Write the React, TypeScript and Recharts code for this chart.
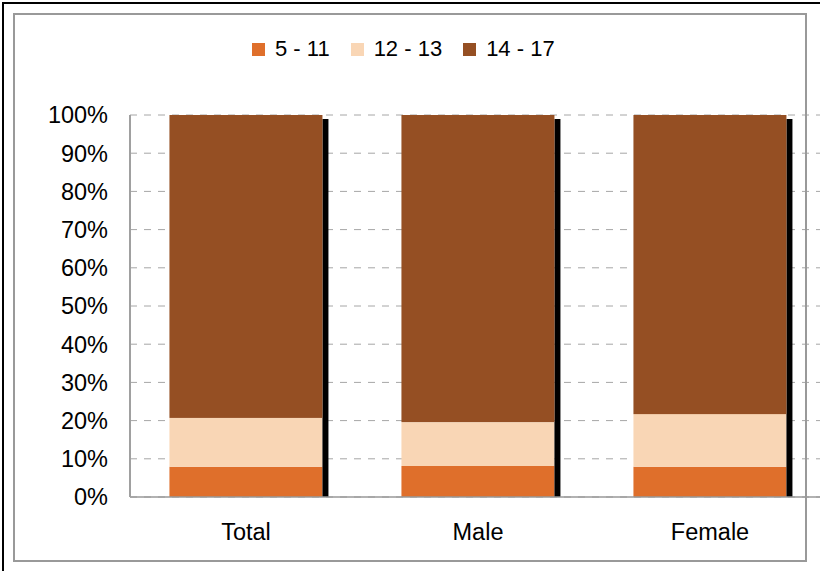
import { BarChart, Bar, XAxis, YAxis, CartesianGrid } from 'recharts';

const categories = ['Total', 'Male', 'Female'];
const age5to11 = [7.9, 8.1, 7.9];
const age12to13 = [12.8, 11.5, 13.8];
const age14to17 = [79.3, 80.4, 78.3];
const yTicks = [0, 10, 20, 30, 40, 50, 60, 70, 80, 90, 100];

const series = [
  { key: 'a', name: '5 - 11', color: '#DF6F2B' },
  { key: 'b', name: '12 - 13', color: '#F9D6B5' },
  { key: 'c', name: '14 - 17', color: '#954F23' },
];

const data = categories.map((name, i) => ({
  name,
  a: age5to11[i],
  b: age12to13[i],
  c: age14to17[i],
}));

const FONT = 'Arial, "Liberation Sans", sans-serif';

// top segment also draws the black drop shadow of the whole stack
const ShadowTop = (props: any) => {
  const { x, y, width, height, fill, payload } = props;
  const total = payload.a + payload.b + payload.c;
  const full = (height * total) / payload.c;
  return (
    <g>
      <rect x={x + width} y={y + 4} width={6} height={full - 4} fill="#000" />
      <rect x={x} y={y} width={width} height={height} fill={fill} />
    </g>
  );
};

const ChartLegend = () => (
  <div
    style={{
      position: 'absolute',
      left: 252,
      top: 36,
      display: 'flex',
      fontFamily: FONT,
      fontSize: 22,
      lineHeight: '26px',
      color: '#000',
    }}
  >
    {series.map((s) => (
      <div key={s.key} style={{ display: 'flex', alignItems: 'center', marginRight: 21 }}>
        <span style={{ width: 13, height: 13, background: s.color, marginRight: 10, display: 'inline-block' }} />
        <span>{s.name}</span>
      </div>
    ))}
  </div>
);

export default function App() {
  return (
    <div style={{ position: 'absolute', left: 0, top: 0, width: 820, height: 571, overflow: 'hidden', background: '#fff' }}>
      <div style={{ position: 'absolute', left: 2, top: 2, width: 830, height: 600, borderLeft: '2px solid #000', borderTop: '2px solid #000' }} />
      <BarChart
        width={830}
        height={571}
        data={data}
        margin={{ top: 115, right: 4, left: 0, bottom: 0 }}
        barCategoryGap="17%"
        style={{ position: 'absolute', left: 0, top: 0 }}
      >
        <CartesianGrid vertical={false} stroke="#a6a6a6" strokeDasharray="7 7" />
        <XAxis
          dataKey="name"
          height={74}
          axisLine={{ stroke: '#999', strokeWidth: 1.5 }}
          tickLine={false}
          tickSize={0}
          tickMargin={26}
          tick={{ fill: '#000', fontSize: 23.5, fontFamily: FONT }}
        />
        <YAxis
          domain={[0, 100]}
          ticks={yTicks}
          interval={0}
          tickFormatter={(v: number) => `${v}%`}
          axisLine={{ stroke: '#999', strokeWidth: 1.5 }}
          tickLine={false}
          tickSize={0}
          tickMargin={22}
          width={130}
          tick={{ fill: '#000', fontSize: 23.5, fontFamily: FONT }}
        />
        <Bar dataKey="a" name="5 - 11" stackId="s" fill={series[0].color} isAnimationActive={false} />
        <Bar dataKey="b" name="12 - 13" stackId="s" fill={series[1].color} isAnimationActive={false} />
        <Bar dataKey="c" name="14 - 17" stackId="s" fill={series[2].color} shape={<ShadowTop />} isAnimationActive={false} />
      </BarChart>
      {/* value axis rule */}
      <div style={{ position: 'absolute', left: 129, top: 115, width: 2, height: 382, background: '#a0a0a0', pointerEvents: 'none' }} />
      <ChartLegend />
      <div style={{ position: 'absolute', left: 13, top: 13, width: 794, height: 549, border: '2px solid #999', boxSizing: 'border-box', pointerEvents: 'none' }} />
    </div>
  );
}
